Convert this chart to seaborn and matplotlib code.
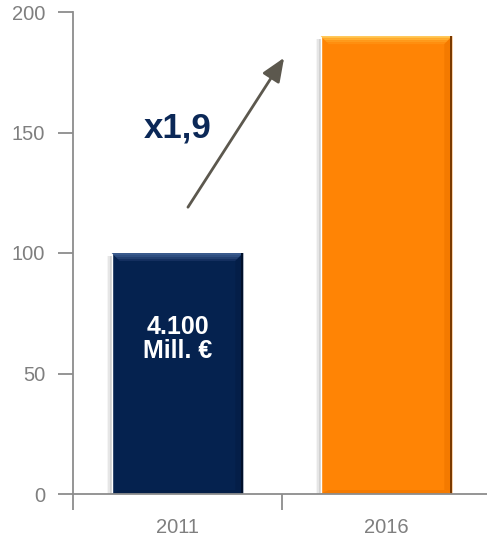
import matplotlib
matplotlib.use("Agg")
import matplotlib.pyplot as plt
from matplotlib.patches import Polygon, Rectangle
import seaborn as sns
import pandas as pd

years = ["2011", "2016"]
index_values = [100, 190]
bar_colors = ["#05224F", "#FF8405"]
y_ticks = [0, 50, 100, 150, 200]
growth_label = "x1,9"
base_label = "4.100\nMill. €"

sns.set_theme(style="white")
plt.rcParams["font.family"] = ["Liberation Sans", "DejaVu Sans"]

df = pd.DataFrame({"year": years, "value": index_values})

fig = plt.figure(figsize=(4.87, 5.38), dpi=100)
ax = fig.add_axes([73 / 487, 44 / 538, 418 / 487, 482 / 538])

sns.barplot(data=df, x="year", y="value", hue="year", palette=bar_colors,
            legend=False, width=0.63, saturation=1, ax=ax, zorder=3)

ax.set_xlim(-0.5, 1.5)
ax.set_ylim(0, 200)
ax.set_yticks(y_ticks)
ax.set_xlabel("")
ax.set_ylabel("")

grey = "#8C8C8C"
for s in ("top", "right"):
    ax.spines[s].set_visible(False)
for s in ("left", "bottom"):
    ax.spines[s].set_color(grey)
    ax.spines[s].set_linewidth(1.3)
    ax.spines[s].set_zorder(6)

ax.tick_params(axis="y", direction="out", length=11, width=1.3, color=grey,
               labelcolor="#7F7F7F", labelsize=14.5, pad=9, left=True)
ax.tick_params(axis="x", which="major", length=0, labelcolor="#7F7F7F",
               labelsize=14.5, pad=17, bottom=True)
ax.set_xticks([-0.5, 0.5, 1.5], minor=True)
ax.tick_params(axis="x", which="minor", direction="out", length=11.5,
               width=1.3, color=grey, bottom=True)

# soft bevel and drop shadow on each bar
px_x = 2.0 / 418
px_y = 200.0 / 482
bx, by = 8 * px_x, 8 * px_y
top_light = [["#3A5A8C", "#2E4E80", "#223F6F", "#142F5F"],
             ["#FFC24A", "#FFAE30", "#FF9B1C", "#FF8F10"]]
right_band = ["#041E48", "#F47A00"]
edge_dark = ["#01102A", "#7A3A00"]
for patch, tl, rb, ed in zip(ax.patches, top_light, right_band, edge_dark):
    x0 = patch.get_x()
    w = patch.get_width()
    x1 = x0 + w
    h = patch.get_height()
    for k, a in enumerate([0.04, 0.06, 0.09]):
        off = (3 - k) * 1.6 * px_x
        ax.add_patch(Rectangle((x0 - off, 0), w + off, h - 3 * px_y,
                               color="#000000", alpha=a, lw=0, zorder=2))
    n = len(tl)
    for i, c in enumerate(tl):
        ya = h - by * i / n
        yb = h - by * (i + 1) / n
        xa = bx * i / n
        xb = bx * (i + 1) / n
        ax.add_patch(Polygon([(x0 + xa, ya), (x1 - xa, ya), (x1 - xb, yb), (x0 + xb, yb)],
                             closed=True, color=c, lw=0, zorder=4))
    ax.add_patch(Polygon([(x1, h), (x1, 0), (x1 - bx, by * 0.5), (x1 - bx, h - by)],
                         closed=True, color=rb, lw=0, zorder=4))
    ax.add_patch(Rectangle((x1 - 2 * px_x, 0), 2 * px_x, h, color=ed, lw=0, zorder=4))
    ax.add_patch(Polygon([(x0, 0), (x1, 0), (x1 - bx, by * 0.5), (x0 + bx, by * 0.5)],
                         closed=True, color=rb, lw=0, zorder=4))

ax.text(0, index_values[0] * 0.645, base_label, color="white", fontsize=18,
        fontweight="bold", ha="center", va="center", linespacing=1.0, zorder=5)

ax.annotate("", xy=(0.51, 181), xytext=(0.05, 119),
            arrowprops=dict(arrowstyle="-|>,head_length=1.2,head_width=0.5",
                            color="#5C584E", lw=2, shrinkA=0, shrinkB=0),
            zorder=5)
ax.text(0.0, 152, growth_label, color="#0B2857", fontsize=25,
        fontweight="bold", ha="center", va="center", zorder=5)

fig.savefig("out.png", dpi=100)
